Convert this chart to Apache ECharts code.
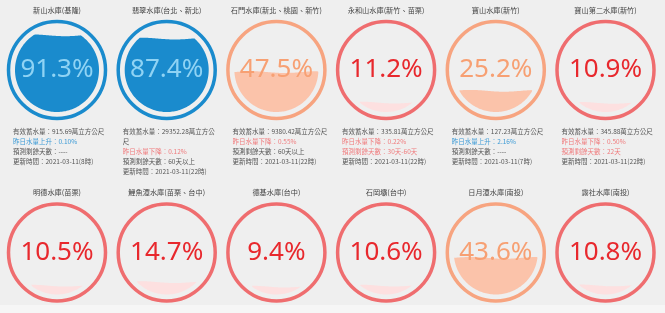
<!DOCTYPE html>
<html>
<head>
<meta charset="utf-8">
<script src="https://cdn.jsdelivr.net/npm/echarts@6/dist/echarts.min.js"></script>
<style>
html, body { margin: 0; padding: 0; background: #efefef; }
#main { width: 665px; height: 313px; }
</style>
</head>
<body>
<div id="main"></div>
<script>
// reservoir names and storage percentage
var names = ['新山水庫(基隆)', '翡翠水庫(台北、新北)', '石門水庫(新北、桃園、新竹)', '永和山水庫(新竹、苗栗)', '寶山水庫(新竹)', '寶山第二水庫(新竹)',
    '明德水庫(苗栗)', '鯉魚潭水庫(苗栗、台中)', '德基水庫(台中)', '石岡壩(台中)', '日月潭水庫(南投)', '霧社水庫(南投)'];
var percents = [91.3, 87.4, 47.5, 11.2, 25.2, 10.9, 10.5, 14.7, 9.4, 10.6, 43.6, 10.8];

// info lines under the first row
var storage = ['915.69', '29352.28', '9380.42', '335.81', '127.23', '345.88'];
var changeDir = ['上升', '下降', '下降', '下降', '上升', '下降'];
var changePct = ['0.10%', '0.12%', '0.55%', '0.22%', '2.16%', '0.50%'];
var daysLeft = ['----', '60天以上', '60天以上', '30天-60天', '----', '22天'];
var updated = ['2021-03-11(8時)', '2021-03-11(22時)', '2021-03-11(22時)', '2021-03-11(22時)', '2021-03-11(7時)', '2021-03-11(22時)'];

var CJK = '"Noto Sans CJK TC", "Noto Sans", sans-serif';
var INFO_FONT = '6.5px ' + CJK;
var colX0 = 57, colStep = 109.7;
var rowY = [70, 252.5];
var R = 42;

function palette(p) {
    if (p >= 50) return {ring: '#1a8bcd', fill: '#1a8bcd', text: '#8fd3f4'};
    if (p >= 20) return {ring: '#f7a480', fill: '#fbc3aa', text: '#f7a073'};
    return {ring: '#ef6d6f', fill: '#fde0e0', text: '#e8282d'};
}

function renderGauge(params, api) {
    var cs = params.coordSys;
    var r = cs.width / 2, cx = cs.x + r, cy = cs.y + cs.height / 2;
    var pct = api.value(1);
    var level = api.coord([0.5, pct])[1];
    var pal = palette(pct);
    var dy = level - cy;
    var pts = [];
    if (Math.abs(dy) < r) {
        var half = Math.sqrt(r * r - dy * dy);
        var wl = r * 1.6, amp = 0.9;
        for (var x = cx - half; x <= cx + half; x += 1) {
            var h = Math.sqrt(Math.max(0, r * r - (x - cx) * (x - cx)));
            var y = level + amp * Math.sin((x - cx) / wl * 2 * Math.PI + 0.8);
            y = Math.min(Math.max(y, cy - h), cy + h);
            pts.push([x, y]);
        }
        var aR = Math.asin(dy / r), aL = Math.PI - aR;
        for (var a = aR; a <= aL; a += 0.03) {
            pts.push([cx + r * Math.cos(a), cy + r * Math.sin(a)]);
        }
    }
    return {
        type: 'group',
        children: [
            {type: 'circle', shape: {cx: cx, cy: cy, r: r + 6.5},
                style: {fill: 'none', stroke: pal.ring, lineWidth: 3.5}},
            {type: 'polygon', shape: {points: pts}, style: {fill: pal.fill}},
            {type: 'text', x: cx, y: cy,
                style: {text: pct.toFixed(1) + '%', fill: pal.text,
                    font: '26px "Noto Sans", sans-serif', textAlign: 'center', textVerticalAlign: 'middle'}}
        ]
    };
}

// wrap a line at maxW like the page does
var ctx = document.createElement('canvas').getContext('2d');
ctx.font = INFO_FONT;
function wrap(s, maxW) {
    var out = [], cur = '';
    for (var k = 0; k < s.length; k++) {
        if (cur && ctx.measureText(cur + s[k]).width > maxW) { out.push(cur); cur = ''; }
        cur += s[k];
    }
    out.push(cur);
    return out;
}

var grids = [], xAxes = [], yAxes = [], series = [], graphics = [];

graphics.push({type: 'rect', z: -10, shape: {x: 0, y: 305, width: 665, height: 8}, style: {fill: '#f6f6f6'}});

percents.forEach(function (p, i) {
    var col = i % 6, row = Math.floor(i / 6);
    var cx = colX0 + colStep * col, cy = rowY[row];
    grids.push({left: cx - R, top: cy - R, width: 2 * R, height: 2 * R});
    xAxes.push({type: 'value', gridIndex: i, min: 0, max: 1, show: false});
    yAxes.push({type: 'value', gridIndex: i, min: 0, max: 100, show: false});
    series.push({
        type: 'custom', name: names[i], xAxisIndex: i, yAxisIndex: i,
        renderItem: renderGauge, data: [[0.5, p]], silent: true
    });
    graphics.push({
        type: 'text', x: cx, y: cy - 60,
        style: {text: names[i], fill: '#444', font: '7.2px ' + CJK, textAlign: 'center', textVerticalAlign: 'middle'}
    });
});

storage.forEach(function (s, i) {
    var x = colX0 + colStep * i - 44;
    var warnDays = /^\d/.test(daysLeft[i]) && daysLeft[i].indexOf('以上') < 0;
    var lines = [];
    wrap('有效蓄水量：' + s + '萬立方公尺', 95).forEach(function (t) { lines.push([t, '#555']); });
    lines.push(['昨日水量' + changeDir[i] + '：' + changePct[i], changeDir[i] === '上升' ? '#3d9bd6' : '#f07b7d']);
    lines.push(['預測剩餘天數：' + daysLeft[i], warnDays ? '#f07b7d' : '#555']);
    lines.push(['更新時間：' + updated[i], '#555']);
    lines.forEach(function (ln, k) {
        graphics.push({
            type: 'text', x: x, y: 132 + 10 * k,
            style: {text: ln[0], fill: ln[1], font: INFO_FONT, textAlign: 'left', textVerticalAlign: 'middle'}
        });
    });
});

var myChart = echarts.init(document.getElementById('main'));
option = {
    backgroundColor: '#efefef',
    animation: false,
    grid: grids,
    xAxis: xAxes,
    yAxis: yAxes,
    graphic: graphics,
    series: series
};
myChart.setOption(option);
</script>
</body>
</html>
